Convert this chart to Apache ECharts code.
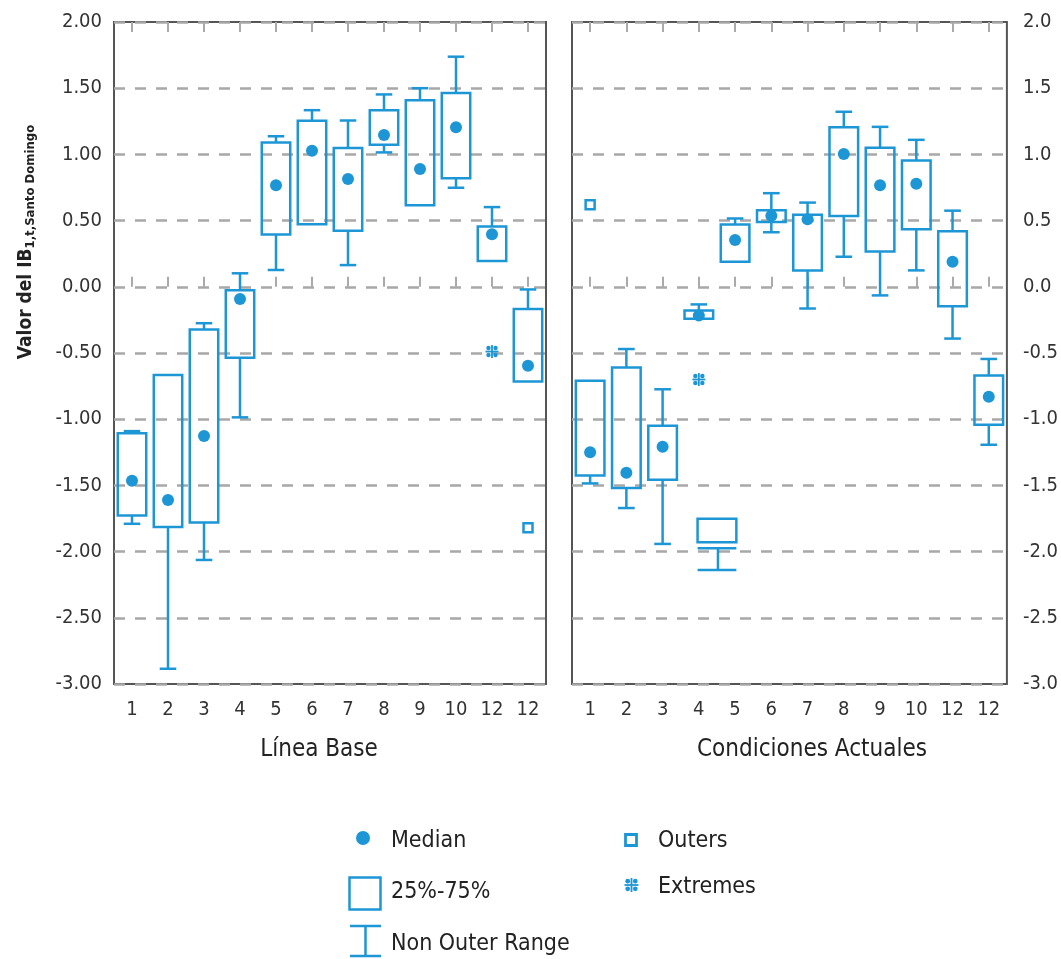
<!DOCTYPE html>
<html>
<head>
<meta charset="utf-8">
<script src="https://cdn.jsdelivr.net/npm/echarts@6/dist/echarts.min.js"></script>
<style>
  html, body { margin: 0; padding: 0; background: #fff; }
  #chart { width: 1061px; height: 959px; }
</style>
</head>
<body>
<div id="chart"></div>
<script>
// ---------- DATA ----------
const categories = ['c1','c2','c3','c4','c5','c6','c7','c8','c9','c10','c11','c12'];
const tickLabels = ['1','2','3','4','5','6','7','8','9','10','12','12'];
const yTicks = [-3.0, -2.5, -2.0, -1.5, -1.0, -0.5, 0.0, 0.5, 1.0, 1.5, 2.0];

// Línea Base
const baseWhiskerHigh = [-1.09, -0.666, -0.275, 0.102, 1.137, 1.334, 1.256, 1.453, 1.50, 1.738, 0.602, -0.02];
const baseQ3          = [-1.107, -0.666, -0.322, -0.027, 1.09, 1.254, 1.049, 1.334, 1.409, 1.463, 0.456, -0.167];
const baseMedian      = [-1.465, -1.61, -1.127, -0.093, 0.767, 1.027, 0.814, 1.146, 0.89, 1.205, 0.397, -0.597];
const baseQ1          = [-1.727, -1.815, -1.78, -0.535, 0.395, 0.473, 0.424, 1.073, 0.615, 0.819, 0.195, -0.715];
const baseWhiskerLow  = [-1.79, -2.885, -2.063, -0.986, 0.127, 0.473, 0.164, 1.015, 0.615, 0.748, 0.195, -0.715];
const baseOuters      = [[11, -1.82]];
const baseExtremes    = [[10, -0.489]];

// Condiciones Actuales
const actWhiskerHigh = [-0.71, -0.47, -0.774, -0.133, 0.516, 0.707, 0.636, 1.322, 1.208, 1.11, 0.575, -0.545];
const actQ3          = [-0.71, -0.61, -1.049, -0.179, 0.471, 0.579, 0.544, 1.205, 1.051, 0.953, 0.42, -0.669];
const actMedian      = [-1.25, -1.404, -1.208, -0.217, 0.354, 0.537, 0.51, 1.003, 0.767, 0.778, 0.19, -0.83];
const actQ1          = [-1.426, -1.52, -1.458, -0.242, 0.19, 0.49, 0.124, 0.534, 0.266, 0.434, -0.146, -1.041];
const actWhiskerLow  = [-1.485, -1.671, -1.942, -0.242, 0.19, 0.412, -0.164, 0.227, -0.065, 0.124, -0.391, -1.193];
const actOuters      = [[0, 0.62]];
const actExtremes    = [[3, -0.70]];
// stray box drawn between categories 4 and 5 in the original figure: [cat, top, bottom, line, whiskerLow]
const actStrayBox    = [[3, -1.752, -1.929, -1.975, -2.139]];

// ---------- STYLE ----------
const BLUE = '#1d96d5';
const FONT = "'Liberation Sans Narrow', 'DejaVu Sans Condensed', 'Roboto', sans-serif";
const LW = 2.5;

function buildBoxData(wh, q3, q1, wl) {
  return categories.map((c, i) => [i, wl[i], q1[i], q3[i], wh[i]]);
}
function buildPoints(arr) { return arr.map((v, i) => [i, v]); }

function boxRender(params, api) {
  const i = api.value(0);
  const wl = api.value(1), q1 = api.value(2), q3 = api.value(3), wh = api.value(4);
  const x = api.coord([i, q1])[0];
  const band = api.size([1, 0])[0];
  const bw = band * 0.79, cw = band * 0.46;
  const yq1 = api.coord([i, q1])[1], yq3 = api.coord([i, q3])[1];
  const ywl = api.coord([i, wl])[1], ywh = api.coord([i, wh])[1];
  const st = { stroke: BLUE, lineWidth: LW, fill: null };
  const children = [];
  if (Math.abs(wh - q3) > 0.005) {
    children.push({ type: 'line', shape: { x1: x, y1: yq3, x2: x, y2: ywh }, style: st });
    children.push({ type: 'line', shape: { x1: x - cw / 2, y1: ywh, x2: x + cw / 2, y2: ywh }, style: st });
  }
  if (Math.abs(q1 - wl) > 0.005) {
    children.push({ type: 'line', shape: { x1: x, y1: yq1, x2: x, y2: ywl }, style: st });
    children.push({ type: 'line', shape: { x1: x - cw / 2, y1: ywl, x2: x + cw / 2, y2: ywl }, style: st });
  }
  children.push({ type: 'rect', shape: { x: x - bw / 2, y: yq3, width: bw, height: yq1 - yq3 }, style: st });
  return { type: 'group', children };
}

function strayRender(params, api) {
  const i = api.value(0);
  const top = api.value(1), bot = api.value(2), line = api.value(3), wl = api.value(4);
  const x = (api.coord([i, top])[0] + api.coord([i + 1, top])[0]) / 2;
  const band = api.size([1, 0])[0];
  const bw = band * 1.07;
  const yt = api.coord([i, top])[1], yb = api.coord([i, bot])[1];
  const yl = api.coord([i, line])[1], yw = api.coord([i, wl])[1];
  const st = { stroke: BLUE, lineWidth: LW, fill: null };
  return { type: 'group', children: [
    { type: 'rect', shape: { x: x - bw / 2, y: yt, width: bw, height: yb - yt }, style: st },
    { type: 'line', shape: { x1: x - bw / 2, y1: yl, x2: x + bw / 2, y2: yl }, style: st },
    { type: 'line', shape: { x1: x + 1, y1: yl, x2: x + 1, y2: yw }, style: st },
    { type: 'line', shape: { x1: x - bw / 2, y1: yw, x2: x + bw / 2, y2: yw }, style: st }
  ]};
}

function extremeShape(cx, cy, s) {
  // plus sign with four dots in the quadrants
  const h = s / 2, d = s * 0.17;
  return [
    { type: 'line', shape: { x1: cx - h, y1: cy, x2: cx + h, y2: cy }, style: { stroke: BLUE, lineWidth: 1.8 } },
    { type: 'line', shape: { x1: cx, y1: cy - h, x2: cx, y2: cy + h }, style: { stroke: BLUE, lineWidth: 1.8 } },
    { type: 'circle', shape: { cx: cx - s * 0.27, cy: cy - s * 0.27, r: d }, style: { fill: BLUE } },
    { type: 'circle', shape: { cx: cx + s * 0.27, cy: cy - s * 0.27, r: d }, style: { fill: BLUE } },
    { type: 'circle', shape: { cx: cx - s * 0.27, cy: cy + s * 0.27, r: d }, style: { fill: BLUE } },
    { type: 'circle', shape: { cx: cx + s * 0.27, cy: cy + s * 0.27, r: d }, style: { fill: BLUE } }
  ];
}
function extremeRender(params, api) {
  const p = api.coord([api.value(0), api.value(1)]);
  return { type: 'group', children: extremeShape(p[0], p[1], 13) };
}

const chart = echarts.init(document.getElementById('chart'), null, { renderer: 'canvas' });

const gridStyle = { show: true, borderColor: '#555', borderWidth: 2, backgroundColor: 'transparent' };
function xAxisDef(gridIndex, position, showLabel) {
  return {
    type: 'category', gridIndex, position, data: categories, boundaryGap: true,
    axisLine: { show: false },
    axisTick: { show: true, inside: true, alignWithLabel: true, interval: 0, length: 10, lineStyle: { color: '#aaa', width: 2 } },
    axisLabel: { show: showLabel, interval: 0, margin: 16, fontFamily: FONT, fontSize: 20, color: '#333',
      formatter: (v, idx) => tickLabels[idx] },
    splitLine: { show: false }
  };
}
function yAxisDef(gridIndex, position, decimals, margin) {
  return {
    type: 'value', gridIndex, position, min: yTicks[0], max: yTicks[yTicks.length - 1], interval: 0.5,
    axisLine: { show: false }, axisTick: { show: false },
    axisLabel: { margin, fontFamily: FONT, fontSize: 20, color: '#333',
      formatter: v => (v < 0 ? '-' : '') + Math.abs(v).toFixed(decimals) },
    splitLine: { show: true, lineStyle: { color: '#a8a8a8', width: 2.5, type: [11, 10] } }
  };
}

const LEG_FONT = '23px ' + FONT;
const legendGraphics = [
  { type: 'circle', shape: { cx: 363, cy: 838, r: 7 }, style: { fill: BLUE } },
  { type: 'text', x: 391, y: 841, style: { text: 'Median', font: LEG_FONT, fill: '#222', verticalAlign: 'middle' } },
  { type: 'rect', shape: { x: 349.5, y: 877.5, width: 31, height: 32 }, style: { fill: null, stroke: BLUE, lineWidth: 2.5 } },
  { type: 'text', x: 391, y: 892, style: { text: '25%-75%', font: LEG_FONT, fill: '#222', verticalAlign: 'middle' } },
  { type: 'line', shape: { x1: 350, y1: 926, x2: 381, y2: 926 }, style: { stroke: BLUE, lineWidth: 2.5 } },
  { type: 'line', shape: { x1: 365.5, y1: 926, x2: 365.5, y2: 956 }, style: { stroke: BLUE, lineWidth: 2.5 } },
  { type: 'line', shape: { x1: 350, y1: 956, x2: 381, y2: 956 }, style: { stroke: BLUE, lineWidth: 2.5 } },
  { type: 'text', x: 391, y: 944, style: { text: 'Non Outer Range', font: LEG_FONT, fill: '#222', verticalAlign: 'middle' } },
  { type: 'rect', shape: { x: 625.5, y: 834.5, width: 11, height: 11 }, style: { fill: '#fff', stroke: BLUE, lineWidth: 2.8 } },
  { type: 'text', x: 658, y: 841, style: { text: 'Outers', font: LEG_FONT, fill: '#222', verticalAlign: 'middle' } },
  { type: 'group', children: extremeShape(631.5, 885, 14) },
  { type: 'text', x: 658, y: 887, style: { text: 'Extremes', font: LEG_FONT, fill: '#222', verticalAlign: 'middle' } },
  // axis names
  { type: 'text', x: 319, y: 750, style: { text: 'Línea Base', font: '24px ' + FONT, fill: '#222', align: 'center', verticalAlign: 'middle' } },
  { type: 'text', x: 812, y: 750, style: { text: 'Condiciones Actuales', font: '24px ' + FONT, fill: '#222', align: 'center', verticalAlign: 'middle' } },
  { type: 'text', x: 26, y: 242, rotation: Math.PI / 2,
    style: { text: '{m|Valor del IB}{s|1,t,Santo Domingo}', align: 'center', verticalAlign: 'middle', fill: '#222',
      rich: { m: { fontFamily: FONT, fontSize: 19, fontWeight: 'bold', fill: '#222' },
              s: { fontFamily: FONT, fontSize: 13, fontWeight: 'bold', fill: '#222', padding: [9, 0, 0, 0] } } } }
];

const option = {
  animation: false,
  backgroundColor: '#fff',
  grid: [
    Object.assign({ left: 114, top: 22, width: 432, height: 662 }, gridStyle),
    Object.assign({ left: 572, top: 22, width: 436, height: 662 }, gridStyle)
  ],
  xAxis: [ xAxisDef(0, 'bottom', true), xAxisDef(0, 'top', false), xAxisDef(1, 'bottom', true), xAxisDef(1, 'top', false) ],
  yAxis: [ yAxisDef(0, 'left', 2, 12), yAxisDef(1, 'right', 1, 16) ],
  series: [
    { type: 'custom', xAxisIndex: 0, yAxisIndex: 0, renderItem: boxRender,
      data: buildBoxData(baseWhiskerHigh, baseQ3, baseQ1, baseWhiskerLow), encode: { x: 0, y: [1, 2, 3, 4] }, z: 3 },
    { type: 'scatter', xAxisIndex: 0, yAxisIndex: 0, data: buildPoints(baseMedian), symbol: 'circle', symbolSize: 12,
      itemStyle: { color: BLUE, opacity: 1 }, z: 4 },
    { type: 'scatter', xAxisIndex: 0, yAxisIndex: 0, data: baseOuters, symbol: 'rect', symbolSize: 9,
      itemStyle: { color: '#fff', borderColor: BLUE, borderWidth: 2.5, opacity: 1 }, z: 4 },
    { type: 'custom', xAxisIndex: 0, yAxisIndex: 0, renderItem: extremeRender, data: baseExtremes, z: 4 },

    { type: 'custom', xAxisIndex: 2, yAxisIndex: 1, renderItem: boxRender,
      data: buildBoxData(actWhiskerHigh, actQ3, actQ1, actWhiskerLow), encode: { x: 0, y: [1, 2, 3, 4] }, z: 3 },
    { type: 'custom', xAxisIndex: 2, yAxisIndex: 1, renderItem: strayRender, data: actStrayBox, z: 3 },
    { type: 'scatter', xAxisIndex: 2, yAxisIndex: 1, data: buildPoints(actMedian), symbol: 'circle', symbolSize: 12,
      itemStyle: { color: BLUE, opacity: 1 }, z: 4 },
    { type: 'scatter', xAxisIndex: 2, yAxisIndex: 1, data: actOuters, symbol: 'rect', symbolSize: 9,
      itemStyle: { color: '#fff', borderColor: BLUE, borderWidth: 2.5, opacity: 1 }, z: 4 },
    { type: 'custom', xAxisIndex: 2, yAxisIndex: 1, renderItem: extremeRender, data: actExtremes, z: 4 }
  ],
  graphic: legendGraphics
};
chart.setOption(option);
</script>
</body>
</html>
